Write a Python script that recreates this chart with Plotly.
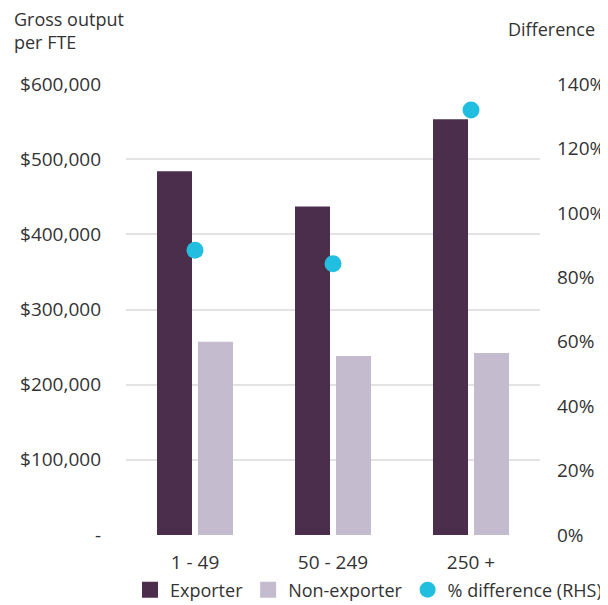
import plotly.graph_objects as go

categories = ["1 - 49", "50 - 249", "250 +"]
exporter = [484000, 437000, 553000]
non_exporter = [257000, 238000, 242000]
pct_difference = [88.4, 84.2, 131.9]

left_tickvals = [0, 100000, 200000, 300000, 400000, 500000, 600000]
left_ticktext = ["-", "$100,000", "$200,000", "$300,000", "$400,000", "$500,000", "$600,000"]
right_tickvals = [0, 20, 40, 60, 80, 100, 120, 140]
right_ticktext = ["0%", "20%", "40%", "60%", "80%", "100%", "120%", "140%"]

FONT = "Open Sans"
TXT = "#333333"
C_EXP = "#4b2e4b"
C_NON = "#c4bbcf"
C_DOT = "#22bedf"

# page body has an 8px margin, so the figure is drawn 8px in from the window edge
OFF = 8
W, H = 608 - OFF, 605 - OFF
# plot area in window coordinates: x 126..540, y 84..535
ML = 126 - OFF
MT = 84 - OFF
MR = W - (540 - OFF)
MB = H - (535 - OFF)
PW = W - ML - MR
PH = H - MT - MB

def px(x):
    return (x - OFF - ML) / PW

def py(y):
    return (MT + PH - (y - OFF)) / PH

fig = go.Figure()
fig.add_trace(go.Bar(x=categories, y=exporter, name="Exporter", showlegend=False,
                     marker=dict(color=C_EXP, line=dict(width=0))))
fig.add_trace(go.Bar(x=categories, y=non_exporter, name="Non-exporter", showlegend=False,
                     marker=dict(color=C_NON, line=dict(width=0))))
fig.add_trace(go.Scatter(x=categories, y=pct_difference, name="% difference (RHS)",
                         mode="markers", yaxis="y2", legendrank=3,
                         marker=dict(color=C_DOT, size=17)))
# legend keys with larger square swatches for the two bar series
fig.add_trace(go.Scatter(x=[None], y=[None], name="Exporter", mode="markers", legendrank=1,
                         marker=dict(symbol="square", color=C_EXP, size=18)))
fig.add_trace(go.Scatter(x=[None], y=[None], name="Non-exporter", mode="markers", legendrank=2,
                         marker=dict(symbol="square", color=C_NON, size=18)))

fig.update_layout(
    width=W, height=H,
    margin=dict(l=ML, r=MR, t=MT, b=MB, autoexpand=False),
    plot_bgcolor="white", paper_bgcolor="white",
    font=dict(family=FONT, size=18, color=TXT),
    barmode="group", bargap=0.406, bargroupgap=0.146,
    xaxis=dict(showgrid=False, showline=False, zeroline=False, ticks="",
               tickfont=dict(size=19, color=TXT), ticklabelstandoff=14),
    yaxis=dict(range=[0, 600000], tickvals=left_tickvals, ticktext=left_ticktext,
               showgrid=True, gridcolor="#e3e3e3", gridwidth=1.5,
               zeroline=False, showline=False, ticks="",
               tickfont=dict(size=19, color=TXT), ticklabelstandoff=24),
    yaxis2=dict(range=[0, 140], tickvals=right_tickvals, ticktext=right_ticktext,
                overlaying="y", side="right", showgrid=False, zeroline=False,
                showline=False, ticks="",
                tickfont=dict(size=19, color=TXT), ticklabelstandoff=16),
    legend=dict(orientation="h", x=px(607), y=py(590), xanchor="right", yanchor="middle",
                font=dict(size=18, color=TXT), itemwidth=30, tracegroupgap=0,
                bgcolor="rgba(0,0,0,0)"),
    showlegend=True,
)

fig.add_annotation(text="Gross output<br>per FTE", x=px(12), y=py(30.5),
                   xref="paper", yref="paper", xanchor="left", yanchor="middle",
                   align="left", showarrow=False, font=dict(size=18, color=TXT))
fig.add_annotation(text="Difference", x=px(597), y=py(29),
                   xref="paper", yref="paper", xanchor="right", yanchor="middle",
                   showarrow=False, font=dict(size=18, color=TXT))

fig.write_html("out.html")
